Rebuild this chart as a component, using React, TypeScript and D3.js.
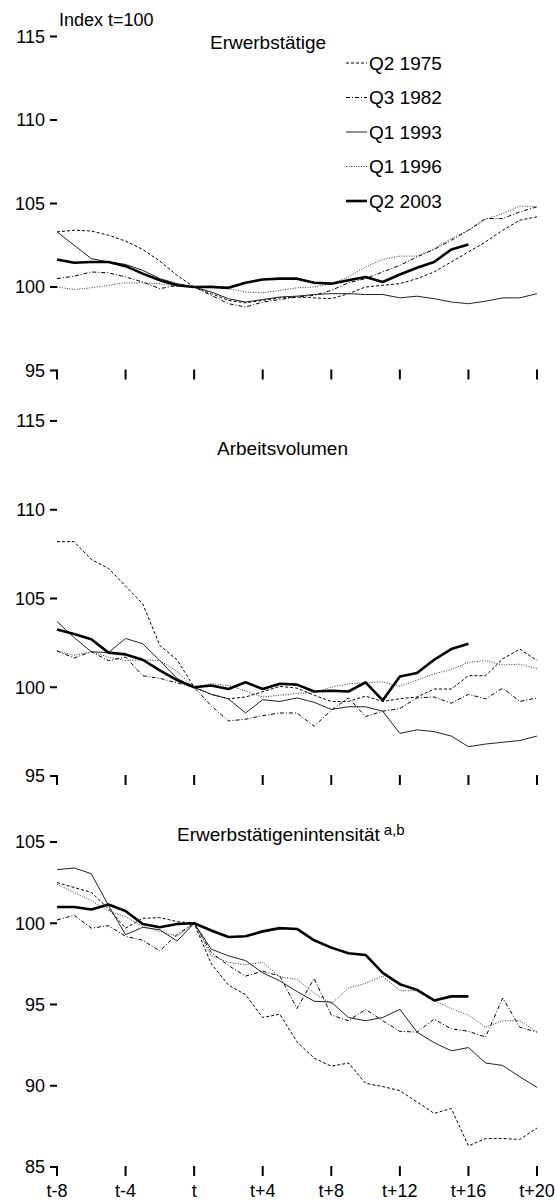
import React from "react";
import * as d3 from "d3";

// ---------- data ----------
const quarters = d3.range(-8, 21); // t-8 .. t+20
const tickQuarters = [-8, -4, 0, 4, 8, 12, 16, 20];
const tickLabels = ["t-8", "t-4", "t", "t+4", "t+8", "t+12", "t+16", "t+20"];
const seriesNames = ["Q2 1975", "Q3 1982", "Q1 1993", "Q1 1996", "Q2 2003"];

// Erwerbstätige
const emp1975 = [103.3, 103.4, 103.35, 103.1, 102.75, 102.25, 101.55, 100.7, 100, 99.6, 99.2, 99.05, 99.2, 99.35, 99.4, 99.35, 99.3, 99.6, 100, 100.1, 100.2, 100.5, 100.9, 101.5, 102.1, 102.7, 103.4, 104.0, 104.2];
const emp1982 = [100.5, 100.65, 100.9, 100.85, 100.6, 100.3, 99.9, 100.1, 100, 99.5, 99.0, 98.8, 99.1, 99.25, 99.4, 99.5, 99.8, 100.25, 100.5, 100.9, 101.3, 101.8, 102.25, 102.8, 103.4, 104.1, 104.1, 104.5, 104.8];
const emp1993 = [103.3, 102.5, 101.7, 101.5, 101.35, 101.0, 100.5, 100.2, 100, 99.7, 99.3, 99.1, 99.25, 99.4, 99.45, 99.55, 99.6, 99.6, 99.55, 99.55, 99.35, 99.45, 99.3, 99.1, 99.0, 99.15, 99.35, 99.35, 99.6];
const emp1996 = [100, 99.85, 99.95, 100.1, 100.25, 100.25, 100.2, 100.05, 100, 100.1, 99.9, 99.7, 99.65, 99.8, 99.95, 100, 100.2, 100.6, 101.2, 101.65, 101.85, 101.85, 102.3, 102.9, 103.4, 104.05, 104.4, 104.85, 104.8];
const emp2003 = [101.65, 101.45, 101.5, 101.5, 101.25, 100.8, 100.4, 100.1, 100, 100, 99.95, 100.25, 100.45, 100.5, 100.5, 100.25, 100.2, 100.4, 100.6, 100.3, 100.75, 101.15, 101.5, 102.25, 102.55];

// Arbeitsvolumen
const vol1975 = [108.2, 108.2, 107.2, 106.7, 105.7, 104.7, 102.35, 101.55, 100, 99.6, 99.35, 99.45, 99.75, 100.05, 99.95, 99.55, 99.2, 99.2, 99.5, 99.2, 99.35, 99.45, 99.9, 99.9, 100.65, 100.65, 101.6, 102.15, 101.5];
const vol1982 = [102.05, 101.65, 102.0, 101.5, 101.7, 100.65, 100.5, 100.25, 100, 98.95, 98.1, 98.2, 98.4, 98.55, 98.55, 97.8, 98.7, 99.4, 98.35, 98.65, 98.8, 99.4, 99.45, 99.1, 99.6, 99.35, 99.95, 99.2, 99.4];
const vol1993 = [103.7, 102.8, 102.0, 101.95, 102.75, 102.45, 101.5, 100.5, 100, 99.6, 99.35, 98.55, 99.3, 99.2, 99.4, 99.15, 98.75, 98.9, 98.9, 98.65, 97.4, 97.6, 97.5, 97.25, 96.65, 96.8, 96.9, 97.0, 97.25];
const vol1996 = [102.05, 101.8, 102.0, 101.7, 101.5, 101.55, 101.5, 100.9, 100, 100.2, 100.1, 99.8, 99.45, 99.55, 99.65, 99.7, 100, 100.2, 100.25, 100.3, 100.05, 100.4, 100.75, 101.0, 101.4, 101.5, 101.25, 101.3, 101.05];
const vol2003 = [103.25, 103.0, 102.7, 101.95, 101.85, 101.55, 100.95, 100.4, 100, 100.1, 99.9, 100.28, 99.9, 100.2, 100.15, 99.76, 99.8, 99.76, 100.28, 99.26, 100.6, 100.8, 101.55, 102.15, 102.45];

// Erwerbstätigenintensität
const int1975 = [102.5, 102.2, 101.9, 100.9, 99.7, 100.3, 100.35, 100.1, 100, 97.5, 96.2, 95.6, 94.2, 94.4, 92.7, 91.7, 91.2, 91.4, 90.15, 89.95, 89.7, 89.0, 88.3, 88.6, 86.3, 86.75, 86.75, 86.7, 87.4];
const int1982 = [100.2, 100.5, 99.7, 99.85, 99.2, 98.95, 98.3, 99.3, 100, 98.2, 97.4, 96.75, 97.05, 96.75, 94.75, 96.6, 94.35, 94.0, 94.7, 94.0, 93.35, 93.3, 94.1, 93.5, 93.35, 93.0, 95.4, 93.6, 93.3];
const int1993 = [103.3, 103.4, 103.05, 101.1, 99.3, 99.75, 99.6, 98.9, 100, 98.4, 98.0, 97.7, 96.95, 96.45, 95.8, 95.2, 95.15, 94.2, 94.0, 94.2, 94.7, 93.3, 92.65, 92.15, 92.35, 91.4, 91.25, 90.55, 89.9];
const int1996 = [102.4, 101.9, 101.4, 100.75, 100.4, 99.8, 99.5, 99.2, 100, 98.0, 97.6, 97.45, 97.6, 96.7, 96.55, 95.7, 95.05, 96.0, 96.3, 96.75, 95.85, 95.85, 95.25, 94.75, 94.35, 93.6, 94.0, 94.0, 93.3];
const int2003 = [101.0, 101.0, 100.85, 101.15, 100.75, 99.95, 99.75, 99.95, 100, 99.55, 99.15, 99.2, 99.5, 99.7, 99.65, 98.95, 98.5, 98.15, 98.05, 96.95, 96.25, 95.9, 95.25, 95.5, 95.5];

const ticksTop = [95, 100, 105, 110, 115];
const ticksBottom = [85, 90, 95, 100, 105];

// ---------- styles ----------
const styles = [
  { dash: "3,2", width: 1, color: "#000" },
  { dash: "4,2,1,2", width: 1, color: "#000" },
  { dash: null, width: 1, color: "#222" },
  { dash: "1,1.5", width: 1, color: "#333" },
  { dash: null, width: 2.6, color: "#000" },
];

const FONT = "'Liberation Sans', Arial, sans-serif";

const W = 555;
const H = 1201;
const x = d3.scaleLinear().domain([-8, 20]).range([57, 537]);

const panels = [
  {
    title: "Erwerbstätige", sup: null, tx: 210, ty: 49,
    domain: [95, 115], range: [370.5, 36.5], ticks: ticksTop,
    series: [emp1975, emp1982, emp1993, emp1996, emp2003], labels: false,
  },
  {
    title: "Arbeitsvolumen", sup: null, tx: 217, ty: 455,
    domain: [95, 115], range: [776, 421], ticks: ticksTop,
    series: [vol1975, vol1982, vol1993, vol1996, vol2003], labels: false,
  },
  {
    title: "Erwerbstätigenintensität", sup: "a,b", tx: 177, ty: 841,
    domain: [85, 105], range: [1167, 842], ticks: ticksBottom,
    series: [int1975, int1982, int1993, int1996, int2003], labels: true,
  },
];

function Panel({ p }: { p: any }) {
  const y = d3.scaleLinear().domain(p.domain).range(p.range);
  const line = d3
    .line<number>()
    .x((_, i) => x(quarters[i]))
    .y((d) => y(d));
  const y0 = y(p.domain[0]);
  return (
    <g>
      {p.ticks.map((t: number) => (
        <g key={"yt" + t}>
          <line x1={x(-8) - 7} x2={x(-8)} y1={y(t)} y2={y(t)} stroke="#000" strokeWidth={2} />
          <text x={x(-8) - 12} y={y(t)} dy="0.35em" textAnchor="end" fontSize={18} fontFamily={FONT}>
            {t}
          </text>
        </g>
      ))}
      {tickQuarters.map((q, i) => (
        <g key={"xt" + q}>
          <line x1={x(q)} x2={x(q)} y1={y0 - 1} y2={y0 + 9} stroke="#000" strokeWidth={2} />
          {p.labels && (
            <text x={x(q)} y={1197} textAnchor="middle" fontSize={18} fontFamily={FONT}>
              {tickLabels[i]}
            </text>
          )}
        </g>
      ))}
      <text x={p.tx} y={p.ty} fontSize={19} fontFamily={FONT}>
        {p.title}
        {p.sup && (
          <tspan dx={4} dy={-6} fontSize={15}>
            {p.sup}
          </tspan>
        )}
      </text>
      {p.series.map((s: number[], k: number) => (
        <path
          key={k}
          d={line(s) || ""}
          fill="none"
          stroke={styles[k].color}
          strokeWidth={styles[k].width}
          strokeDasharray={styles[k].dash || undefined}
          strokeLinejoin="round"
        />
      ))}
    </g>
  );
}

export default function App() {
  const legendY = [63, 97.5, 132, 166.5, 201];
  return (
    <svg width={W} height={H} style={{ position: "absolute", left: 0, top: 0, background: "#fff" }}>
      <rect width={W} height={H} fill="#fff" />
      <text x={59} y={26} fontSize={18} fontFamily={FONT}>Index t=100</text>
      {panels.map((p, i) => (
        <Panel key={i} p={p} />
      ))}
      {seriesNames.map((n, k) => (
        <g key={n}>
          <line
            x1={346}
            x2={367}
            y1={legendY[k]}
            y2={legendY[k]}
            stroke={styles[k].color}
            strokeWidth={styles[k].width}
            strokeDasharray={styles[k].dash || undefined}
          />
          <text x={369} y={legendY[k]} dy="0.35em" fontSize={19} fontFamily={FONT}>
            {n}
          </text>
        </g>
      ))}
    </svg>
  );
}
